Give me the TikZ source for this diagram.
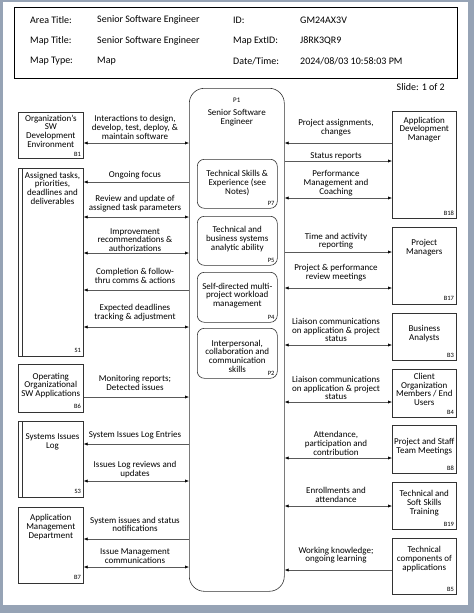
\documentclass[tikz,border=0pt]{standalone}
\usepackage{fontspec}
\setmainfont{Carlito}
\usetikzlibrary{arrows.meta}
\begin{document}
\begin{tikzpicture}[x=1pt,y=-1pt,
  bx/.style={draw=black!80, line width=0.6pt, anchor=north west, inner sep=0pt},
  pbx/.style={bx, rounded corners=7pt},
  txt/.style={font=\fontsize{9}{8.7}\selectfont, align=center, inner sep=0pt},
  hdr/.style={font=\fontsize{10}{12}\selectfont, anchor=west, inner sep=0pt},
  tag/.style={font=\fontsize{6.5}{6.5}\selectfont, inner sep=0pt, anchor=south east},
  arr/.style={draw=black!65, line width=0.6pt},
  >={Latex[length=4pt,width=3.2pt,color=black]}]
% frame
\fill[fill={rgb,255:red,150;green,163;blue,181}] (0,0) rectangle (474,613);
\fill[white] (3,2) rectangle (468,605);
\useasboundingbox (0,0) rectangle (474,613);
% header
\node[bx, line width=0.8pt, draw=black, minimum width=443pt, minimum height=71pt] (hd) at (14,7) {};
\node[hdr] (h1) at (30,20) {Area Title:};
\node[hdr] (h2) at (97,20) {Senior Software Engineer};
\node[hdr] (h3) at (233,20) {ID:};
\node[hdr] (h4) at (300,20) {GM24AX3V};
\node[hdr] (h5) at (30,41) {Map Title:};
\node[hdr] (h6) at (97,41) {Senior Software Engineer};
\node[hdr] (h7) at (233,41) {Map ExtID:};
\node[hdr] (h8) at (300,41) {J8RK3QR9};
\node[hdr] (h9) at (30,61) {Map Type:};
\node[hdr] (h10) at (97,61) {Map};
\node[hdr] (h11) at (233,61) {Date/Time:};
\node[hdr] (h12) at (300,61) {2024/08/03 10:58:03 PM};
\node[hdr, anchor=east] (sl) at (445,87) {Slide: 1 of 2};
% center process
\node[bx, rounded corners=15pt, minimum width=95pt, minimum height=503pt] (P1) at (189,88) {};
\node[txt, font=\fontsize{7}{7}\selectfont] (P1id) at (P1.center |- 0,100) {P1};
\node[txt] (P1t) at (P1.center |- 0,117.5) {Senior Software\\Engineer};
\node[pbx, minimum width=80pt, minimum height=49pt] (P7) at (197,159) {};
\node[txt] (P7t) at (P7.center |- 0,183) {Technical Skills \&\\Experience (see\\Notes)};
\node[tag] (P7id) at ([xshift=-3pt,yshift=3pt]P7.south east) {P7};
\node[pbx, minimum width=80pt, minimum height=49pt] (P5) at (197,216) {};
\node[txt] (P5t) at (P5.center |- 0,239) {Technical and\\business systems\\analytic ability};
\node[tag] (P5id) at ([xshift=-3pt,yshift=3pt]P5.south east) {P5};
\node[pbx, minimum width=80pt, minimum height=50pt] (P4) at (197,272) {};
\node[txt] (P4t) at (P4.center |- 0,295.5) {Self-directed multi-\\project workload\\management};
\node[tag] (P4id) at ([xshift=-3pt,yshift=3pt]P4.south east) {P4};
\node[pbx, minimum width=80pt, minimum height=50pt] (P2) at (197,328) {};
\node[txt] (P2t) at (P2.center |- 0,356) {Interpersonal,\\collaboration and\\communication\\skills};
\node[tag] (P2id) at ([xshift=-3pt,yshift=3pt]P2.south east) {P2};
% left boxes
\node[bx, minimum width=65pt, minimum height=46pt] (B1) at (18,112) {};
\node[txt] (B1t) at (B1.center |- 0,131) {Organization's\\SW\\Development\\Environment};
\node[tag] (B1id) at ([xshift=-2.5pt,yshift=1.5pt]B1.south east) {B1};
\node[bx, minimum width=65pt, minimum height=188pt] (S1) at (18,168) {};
\draw[draw=black!80, line width=0.6pt] ([xshift=4pt]S1.north west) -- ([xshift=4pt]S1.south west);
\node[txt] (S1t) at (52.5,188) {Assigned tasks,\\priorities,\\deadlines and\\deliverables};
\node[tag] (S1id) at ([xshift=-2.5pt,yshift=4pt]S1.south east) {S1};
\node[bx, minimum width=65pt, minimum height=48pt] (B6) at (18,364) {};
\node[txt] (B6t) at (B6.center |- 0,385.5) {Operating\\Organizational\\SW Applications};
\node[tag] (B6id) at ([xshift=-2.5pt,yshift=3.5pt]B6.south east) {B6};
\node[bx, minimum width=65pt, minimum height=76pt] (S3) at (18,421) {};
\draw[draw=black!80, line width=0.6pt] ([xshift=4pt]S3.north west) -- ([xshift=4pt]S3.south west);
\node[txt] (S3t) at (52.5,441.5) {Systems Issues\\Log};
\node[tag] (S3id) at ([xshift=-2.5pt,yshift=3.5pt]S3.south east) {S3};
\node[bx, minimum width=65pt, minimum height=76pt] (B7) at (18,507) {};
\node[txt] (B7t) at (B7.center |- 0,527) {Application\\Management\\Department};
\node[tag] (B7id) at ([xshift=-2.5pt,yshift=3.5pt]B7.south east) {B7};
% right boxes
\node[bx, minimum width=64pt, minimum height=107pt] (B18) at (392,111) {};
\node[txt] (B18t) at (B18.center |- 0,129.5) {Application\\Development\\Manager};
\node[tag] (B18id) at ([xshift=-2.5pt,yshift=3pt]B18.south east) {B18};
\node[bx, minimum width=64pt, minimum height=77pt] (B17) at (392,227) {};
\node[txt] (B17t) at (B17.center |- 0,248) {Project\\Managers};
\node[tag] (B17id) at ([xshift=-2.5pt,yshift=4pt]B17.south east) {B17};
\node[bx, minimum width=64pt, minimum height=47pt] (B3) at (392,313) {};
\node[txt] (B3t) at (B3.center |- 0,333.5) {Business\\Analysts};
\node[tag] (B3id) at ([xshift=-2.5pt,yshift=3pt]B3.south east) {B3};
\node[bx, minimum width=64pt, minimum height=48pt] (B4) at (392,369) {};
\node[txt] (B4t) at (B4.center |- 0,389.5) {Client\\Organization\\Members / End\\Users};
\node[tag] (B4id) at ([xshift=-2.5pt,yshift=3pt]B4.south east) {B4};
\node[bx, minimum width=64pt, minimum height=48pt] (B8) at (392,425) {};
\node[txt] (B8t) at (B8.center |- 0,446.5) {Project and Staff\\Team Meetings};
\node[tag] (B8id) at ([xshift=-2.5pt,yshift=3pt]B8.south east) {B8};
\node[bx, minimum width=64pt, minimum height=47pt] (B19) at (392,482) {};
\node[txt] (B19t) at (B19.center |- 0,503) {Technical and\\Soft Skills\\Training};
\node[tag] (B19id) at ([xshift=-2.5pt,yshift=3pt]B19.south east) {B19};
\node[bx, minimum width=64pt, minimum height=56pt] (B5) at (392,538) {};
\node[txt] (B5t) at (B5.center |- 0,559) {Technical\\components of\\applications};
\node[tag] (B5id) at ([xshift=-2.5pt,yshift=3pt]B5.south east) {B5};
% left connectors
\draw[arr,<->] (B1.east |- 0,143) -- (P1.west |- 0,143);
\node[txt] (L1) at (135,127.5) {Interactions to design,\\develop, test, deploy, \&\\maintain software};
\draw[arr,->] (P1.west |- 0,182) -- (S1.east |- 0,182);
\node[txt] (L2) at (135,175) {Ongoing focus};
\draw[arr,<->] (S1.east |- 0,217) -- (P1.west |- 0,217);
\node[txt] (L3) at (135,203.5) {Review and update of\\assigned task parameters};
\draw[arr,<->] (S1.east |- 0,253) -- (P1.west |- 0,253);
\node[txt] (L4) at (135,240) {Improvement\\recommendations \&\\authorizations};
\draw[arr,->] (P1.west |- 0,290) -- (S1.east |- 0,290);
\node[txt] (L5) at (135,276) {Completion \& follow-\\thru comms \& actions};
\draw[arr,<->] (S1.east |- 0,327) -- (P1.west |- 0,327);
\node[txt] (L6) at (135,312.5) {Expected deadlines\\tracking \& adjustment};
\draw[arr,->] (B6.east |- 0,397) -- (P1.west |- 0,397);
\node[txt] (L7) at (135,383) {Monitoring reports;\\Detected issues};
\draw[arr,->] (P1.west |- 0,444) -- (S3.east |- 0,444);
\node[txt] (L8) at (135,435) {System Issues Log Entries};
\draw[arr,<->] (S3.east |- 0,481) -- (P1.west |- 0,481);
\node[txt] (L9) at (135,469.5) {Issues Log reviews and\\updates};
\draw[arr,->] (P1.west |- 0,539) -- (B7.east |- 0,539);
\node[txt] (L10) at (135,524.5) {System issues and status\\notifications};
\draw[arr,<->] (B7.east |- 0,567) -- (P1.west |- 0,567);
\node[txt] (L11) at (135,556) {Issue Management\\communications};
% right connectors
\draw[arr,->] (B18.west |- 0,143) -- (P1.east |- 0,143);
\node[txt] (R1) at (336,128) {Project assignments,\\changes};
\draw[arr,->] (P1.east |- 0,161) -- (B18.west |- 0,161);
\node[txt] (R2) at (336,156) {Status reports};
\draw[arr,<->] (P1.east |- 0,198) -- (B18.west |- 0,198);
\node[txt] (R3) at (336,183) {Performance\\Management and\\Coaching};
\draw[arr,->] (P1.east |- 0,252) -- (B17.west |- 0,252);
\node[txt] (R4) at (336,241) {Time and activity\\reporting};
\draw[arr,<->] (P1.east |- 0,288) -- (B17.west |- 0,288);
\node[txt] (R5) at (336,272.5) {Project \& performance\\review meetings};
\draw[arr,<->] (P1.east |- 0,345) -- (B3.west |- 0,345);
\node[txt] (R6) at (336,330) {Liaison communications\\on application \& project\\status};
\draw[arr,<->] (P1.east |- 0,402) -- (B4.west |- 0,402);
\node[txt] (R7) at (336,388) {Liaison communications\\on application \& project\\status};
\draw[arr,<->] (P1.east |- 0,458) -- (B8.west |- 0,458);
\node[txt] (R8) at (336,443.5) {Attendance,\\participation and\\contribution};
\draw[arr,<->] (P1.east |- 0,506) -- (B19.west |- 0,506);
\node[txt] (R9) at (336,495) {Enrollments and\\attendance};
\draw[arr,->] (B5.west |- 0,570) -- (P1.east |- 0,570);
\node[txt] (R10) at (336,555) {Working knowledge;\\ongoing learning};
\end{tikzpicture}
\end{document}
